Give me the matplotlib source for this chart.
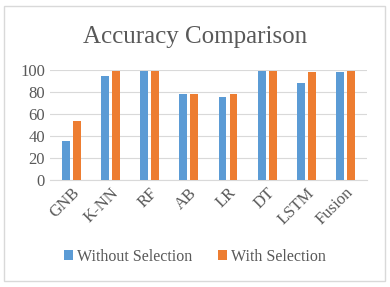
import numpy as np
import matplotlib
matplotlib.use("Agg")
import matplotlib.pyplot as plt
from matplotlib.patches import Rectangle

# данные с картинки
models = ["GNB", "K-NN", "RF", "AB", "LR", "DT", "LSTM", "Fusion"]
without_sel = [35.5, 94.5, 99.5, 78, 75.5, 99.5, 88, 98.5]
with_sel = [53.5, 99.5, 99.5, 78, 78, 99.5, 98.5, 99.5]

TXT = "#595959"
plt.rcParams["font.family"] = "serif"
plt.rcParams["font.serif"] = ["Liberation Serif"]

fig = plt.figure(figsize=(3.9, 2.87), dpi=100)
ax = fig.add_axes([0.128, 0.373, 0.813, 0.383])

x = np.arange(len(models))
w = 0.2
ax.bar(x - 0.14, without_sel, w, color="#5B9BD5", label="Without Selection", zorder=3)
ax.bar(x + 0.14, with_sel, w, color="#ED7D31", label="With Selection", zorder=3)

ax.set_ylim(0, 100)
ax.set_xlim(-0.55, len(models) - 0.45)
ax.set_yticks(range(0, 101, 20))
ax.grid(axis="y", color="#d9d9d9", lw=0.8, zorder=0)
for s in ("top", "right", "left"):
    ax.spines[s].set_visible(False)
ax.spines["bottom"].set_color("#d9d9d9")
ax.tick_params(length=0, labelsize=12, colors=TXT)
ax.set_xticks(x)
ax.set_xticklabels(models, rotation=45, ha="right", rotation_mode="anchor")

fig.text(0.5, 0.87, "Accuracy Comparison", ha="center", va="center", fontsize=18, color=TXT)

fig.legend(loc="center", bbox_to_anchor=(0.5, 0.105), ncol=2, frameon=False,
           fontsize=11.5, labelcolor=TXT, handlelength=0.55, handleheight=0.55,
           handletextpad=0.25, columnspacing=1.6)

# рамка вокруг всей картинки
fig.patches.append(Rectangle((4 / 390, 6 / 287), 381 / 390, 275 / 287, transform=fig.transFigure,
                             fill=False, edgecolor="#d9d9d9", lw=1))

fig.savefig("out.png", dpi=100)
